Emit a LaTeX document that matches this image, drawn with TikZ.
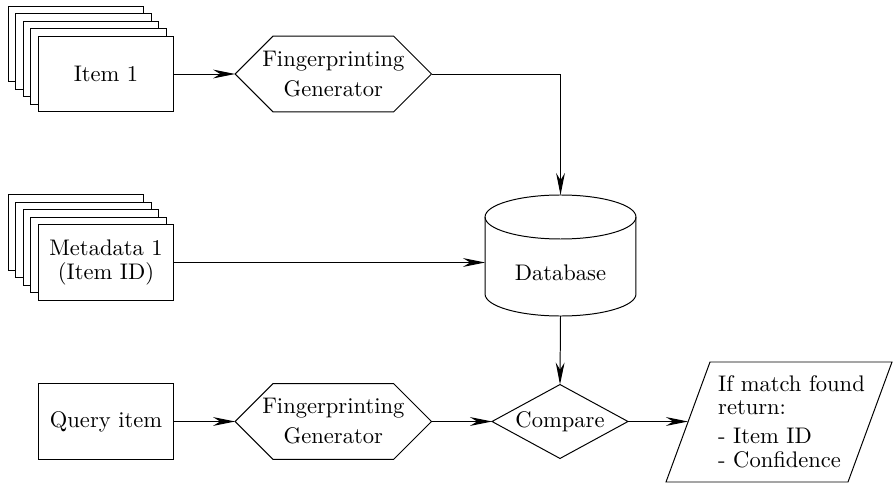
\documentclass[tikz,border=0pt]{standalone}
\usetikzlibrary{arrows.meta, shapes.geometric, shadows, calc}

% outline of a flat hexagon around a rectangular node
\newcommand{\hexoutline}[1]{%
  \draw (#1.west) -- ([xshift=17.27pt]#1.north west) -- ([xshift=-17.27pt]#1.north east)
    -- (#1.east) -- ([xshift=-17.27pt]#1.south east) -- ([xshift=17.27pt]#1.south west) -- cycle;}

\begin{document}
\begin{tikzpicture}[x=0.4545pt, y=-0.4545pt,
  font=\fontsize{10.25}{10.6}\selectfont,
  flow/.style={-{Stealth[length=10pt,width=4pt]}, line width=0.45pt},
  docbox/.style={draw, fill=white, rectangle, minimum width=61.8pt, minimum height=34.5pt,
    inner sep=0pt, outer sep=0pt, align=center, line width=0.45pt},
  docstack/.style={docbox,
    copy shadow={draw, fill=white, shadow xshift=-13.64pt, shadow yshift=13.64pt},
    copy shadow={draw, fill=white, shadow xshift=-10.23pt, shadow yshift=10.23pt},
    copy shadow={draw, fill=white, shadow xshift=-6.82pt, shadow yshift=6.82pt},
    copy shadow={draw, fill=white, shadow xshift=-3.41pt, shadow yshift=3.41pt}},
  hexbox/.style={rectangle, minimum width=89.3pt, minimum height=34.5pt,
    inner sep=0pt, outer sep=0pt, align=center},
  dbbox/.style={rectangle, minimum width=68.6pt, minimum height=55pt,
    inner sep=0pt, outer sep=0pt},
  decision/.style={diamond, draw, aspect=1.84, minimum width=61.8pt, minimum height=33.6pt,
    inner sep=0pt, outer sep=0pt, line width=0.45pt},
  every path/.style={line width=0.45pt}]

\useasboundingbox (0,0) rectangle (893,486);

% enrolment: items
\node[docstack] (item1) at (106,74) {Item 1};
\node[hexbox] (hex1) at (333.3,74) {Fingerprinting\\[3pt]Generator};
\hexoutline{hex1}

% enrolment: metadata
\node[docstack] (meta) at (106,262.5) {Metadata 1\\(Item ID)};

% database cylinder
\node[dbbox, label={[name=dbtext, yshift=-7.95pt]center:Database}] (db) at (560.5,255.5) {};
\draw ([yshift=-10pt]db.north) ellipse [x radius=34.3pt, y radius=10pt];
\draw ([yshift=-10pt]db.north west) -- ([yshift=10pt]db.south west)
  arc[start angle=180, end angle=360, x radius=34.3pt, y radius=10pt]
  -- ([yshift=-10pt]db.north east);

% query path
\node[docbox] (query) at (106,421.5) {Query item};
\node[hexbox] (hex2) at (333.3,421.5) {Fingerprinting\\[3pt]Generator};
\hexoutline{hex2}
\node[decision] (cmp) at (560,421.5) {Compare};

% output parallelogram
\node[align=left, inner sep=0pt] (out) at (791.5,421.5)
  {If match found\\return:\\[2.6pt]- Item ID\\- Confidence};
\draw (666,482) -- (848,482) -- (892,362) -- (710,362) -- cycle;
\coordinate (outin) at (688,421.5);

% connectors
\draw[flow] (item1.east) -- (hex1.west);
\draw[flow] (hex1.east) -| (db.north);
\draw[flow] (meta.east) -- (meta.east -| db.west);
\draw[flow] (db.south) -- (cmp.north);
\draw[flow] (query.east) -- (hex2.west);
\draw[flow] (hex2.east) -- (cmp.west);
\draw[flow] (cmp.east) -- (outin);
\end{tikzpicture}
\end{document}
